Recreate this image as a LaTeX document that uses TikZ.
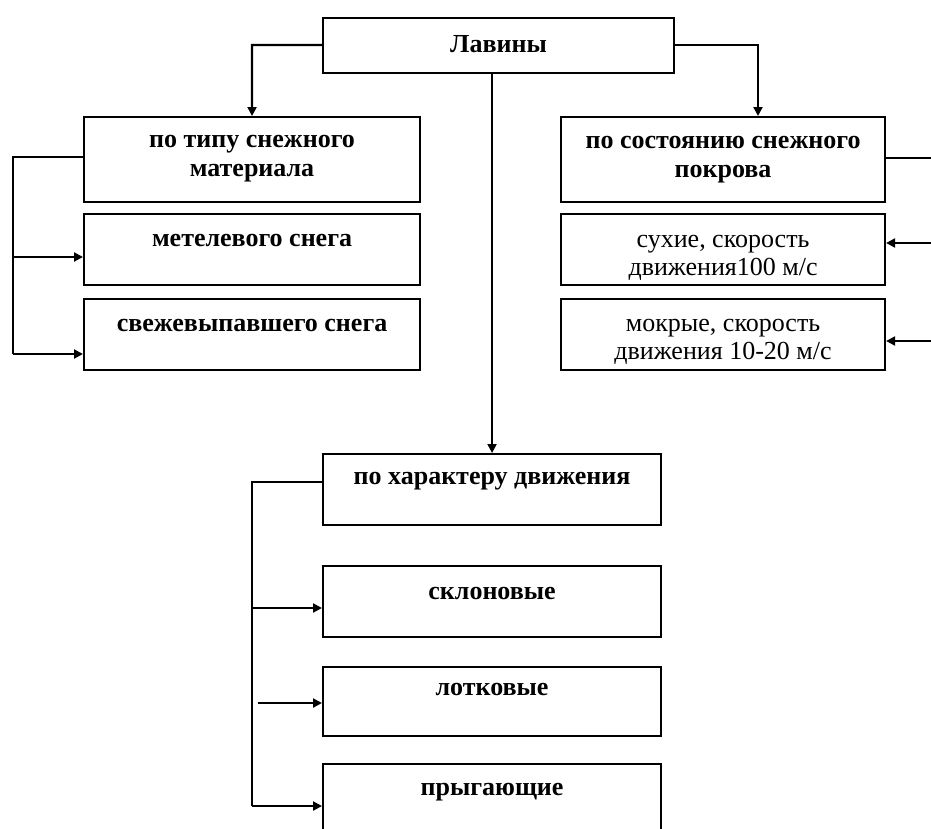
\documentclass[tikz,border=0pt]{standalone}
\usepackage{fontspec}
\setmainfont{Liberation Serif}
\usetikzlibrary{arrows.meta}
\begin{document}
\begin{tikzpicture}[x=1pt,y=-1pt,
  box/.style={draw, line width=2.1pt, inner sep=0pt, anchor=north west},
  txt/.style={font=\fontsize{26}{29}\selectfont\bfseries, align=center, inner sep=0pt},
  txtn/.style={font=\fontsize{26}{28}\selectfont, align=center, inner sep=0pt},
  conn/.style={line width=2.1pt},
  arr/.style={line width=2.1pt, -{Triangle[length=9pt,width=9pt]}}]
\clip (0,0) rectangle (931,828);
\fill[white] (0,0) rectangle (931,828);
% boxes
\node[box, minimum width=351pt, minimum height=55pt] (lav) at (322,17) {};
\node[box, minimum width=336pt, minimum height=85pt] (L1) at (83,116) {};
\node[box, minimum width=336pt, minimum height=71pt] (L2) at (83,213) {};
\node[box, minimum width=336pt, minimum height=71pt] (L3) at (83,298) {};
\node[box, minimum width=324pt, minimum height=85pt] (R1) at (560,116) {};
\node[box, minimum width=324pt, minimum height=71pt] (R2) at (560,213) {};
\node[box, minimum width=324pt, minimum height=71pt] (R3) at (560,298) {};
\node[box, minimum width=338pt, minimum height=71pt] (M1) at (322,453) {};
\node[box, minimum width=338pt, minimum height=71pt] (M2) at (322,565) {};
\node[box, minimum width=338pt, minimum height=69pt] (M3) at (322,666) {};
\node[box, minimum width=338pt, minimum height=71pt] (M4) at (322,763) {};
% texts
\node[txt] (tlav) at ([yshift=1pt]lav.center) {Лавины};
\node[txt] (tL1) at ([yshift=-43pt]L1.north) {по типу снежного\\материала};
\node[txt] (tL2) at ([yshift=-27pt]L2.north) {метелевого снега};
\node[txt] (tL3) at ([yshift=-27pt]L3.north) {свежевыпавшего снега};
\node[txt] (tR1) at ([yshift=-44pt]R1.north) {по состоянию снежного\\покрова};
\node[txtn] (tR2) at ([yshift=-45pt]R2.north) {сухие, скорость\\движения100 м/с};
\node[txtn] (tR3) at ([yshift=-44pt]R3.north) {мокрые, скорость\\движения 10-20 м/с};
\node[txt] (tM1) at ([yshift=-28pt]M1.north) {по характеру движения};
\node[txt] (tM2) at ([yshift=-28pt]M2.north) {склоновые};
\node[txt] (tM3) at ([yshift=-23pt]M3.north) {лотковые};
\node[txt] (tM4) at ([yshift=-29pt]M4.north) {прыгающие};
% coordinates
\coordinate (lt) at (252,45);
\coordinate (rt) at (758,45);
\coordinate (rtb) at (758,116);
\coordinate (lb1) at (13,157);
\coordinate (lb2) at (13,257);
\coordinate (lb3) at (13,354);
\coordinate (rb1) at (931,158);
\coordinate (rb2) at (931,243);
\coordinate (rb3) at (931,341);
\coordinate (mb1) at (252,482);
\coordinate (mb2) at (252,608);
\coordinate (mb3) at (258,703);
\coordinate (mb4) at (252,806);
% connectors
\draw[arr] (lav.west |- lt) -- (lt) -- (L1.north);
\draw[arr] (lav.east |- rt) -- (rt) -- (rtb);
\draw[arr] (M1.north |- lav.south) -- (M1.north);
\draw[conn] (L1.west |- lb1) -- (lb1) -- (lb3);
\draw[arr] (lb2) -- (L2.west |- lb2);
\draw[arr] (lb3) -- (L3.west |- lb3);
\draw[conn] (R1.east |- rb1) -- (rb1);
\draw[arr] (rb2) -- (R2.east |- rb2);
\draw[arr] (rb3) -- (R3.east |- rb3);
\draw[conn] (M1.west |- mb1) -- (mb1) -- (mb4);
\draw[arr] (mb2) -- (M2.west |- mb2);
\draw[arr] (mb3) -- (M3.west |- mb3);
\draw[arr] (mb4) -- (M4.west |- mb4);
\end{tikzpicture}
\end{document}
